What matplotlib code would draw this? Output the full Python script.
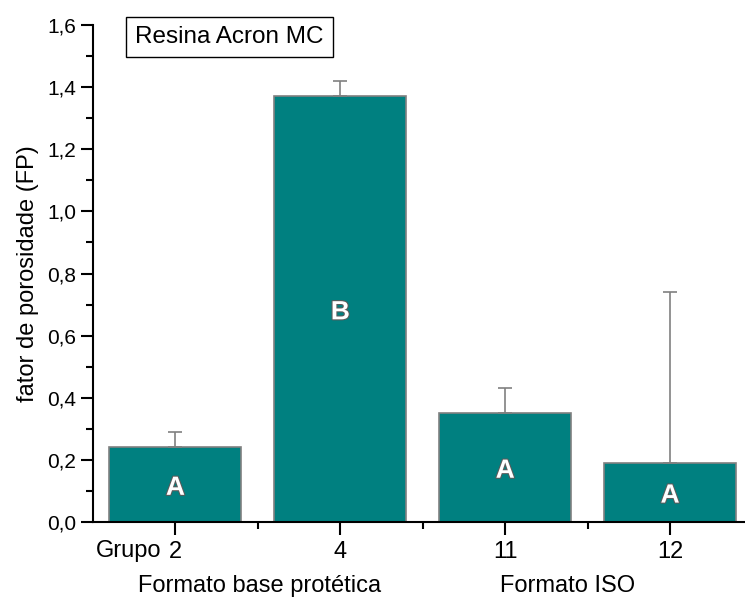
import matplotlib
matplotlib.use('Agg')
import numpy as np
import matplotlib.pyplot as plt
import matplotlib.patheffects as pe

grupos = ['2', '4', '11', '12']
fp = [0.24, 1.37, 0.35, 0.19]
fp_err = [0.05, 0.05, 0.08, 0.55]
letras = ['A', 'B', 'A', 'A']
formatos = ['Formato base protética', 'Formato ISO']

plt.rcParams['font.family'] = ['Liberation Sans', 'DejaVu Sans']

fig = plt.figure(figsize=(7.45, 6.01), dpi=100)
ax = fig.add_axes([93/745, 79/601, 659.5/745, 497/601])

x = np.arange(1, len(grupos) + 1)
ax.bar(x, fp, width=0.8, color='#008080', edgecolor='#808080', linewidth=1.2,
       yerr=[np.zeros(len(fp)), fp_err], error_kw=dict(ecolor='#808080', elinewidth=1.2, capsize=5, capthick=1.2))

# letras um pouco abaixo do meio da barra
for xi, v, l in zip(x, fp, letras):
    ax.text(xi, v / 2 - 0.01, l, color='white', fontsize=19, fontweight='bold', ha='center', va='center',
            path_effects=[pe.withStroke(linewidth=1.5, foreground='#5a5a5a')])

ax.set_xlim(0.5, 4.5)
ax.set_ylim(0, 1.6)
ax.set_yticks(np.arange(0, 1.61, 0.2))
ax.set_yticklabels([('%.1f' % t).replace('.', ',') for t in np.arange(0, 1.61, 0.2)])
ax.set_yticks(np.arange(0.1, 1.6, 0.2), minor=True)
ax.set_xticks(x)
ax.set_xticklabels(grupos)
ax.set_xticks([1.5, 2.5, 3.5], minor=True)
ax.tick_params(axis='both', which='major', direction='out', length=9, width=1.5, labelsize=15)
ax.tick_params(axis='y', which='major', pad=3)
ax.tick_params(axis='x', which='major', pad=5, labelsize=17)
ax.tick_params(axis='both', which='minor', direction='out', length=5, width=1.5)
ax.spines['top'].set_visible(False)
ax.spines['right'].set_visible(False)
ax.spines['left'].set_linewidth(1.5)
ax.spines['bottom'].set_linewidth(1.5)

ax.set_ylabel('fator de porosidade (FP)', fontsize=17, labelpad=6)

ax.text(0.52, -0.092, 'Grupo', fontsize=17, ha='left', va='center')
ax.text(1.51, -0.205, formatos[0], fontsize=17, ha='center', va='center')
ax.text(3.38, -0.205, formatos[1], fontsize=17, ha='center', va='center')

ax.text(0.755, 1.561, 'Resina Acron MC', fontsize=17.5, ha='left', va='center',
        bbox=dict(boxstyle='square,pad=0.38', facecolor='white', edgecolor='black', linewidth=1))

fig.savefig('out.png', dpi=100)
